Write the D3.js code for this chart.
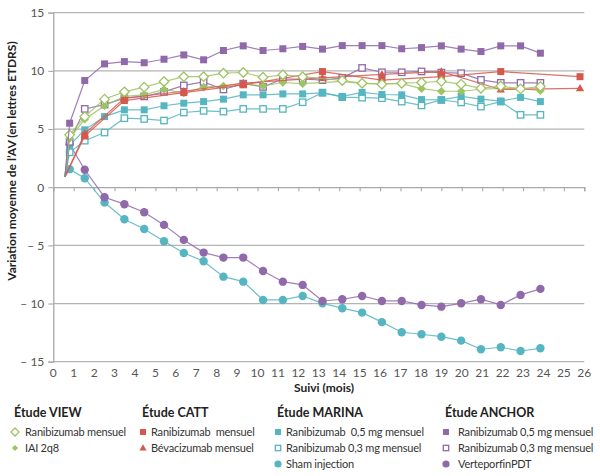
<!DOCTYPE html>
<html><head><meta charset="utf-8">
<script src="https://cdn.jsdelivr.net/npm/d3@7"></script>
<style>body{margin:0;background:#fff} text{font-family:Lato,sans-serif}</style>
</head><body><svg id="c" width="600" height="476"></svg>
<script>
// ---- data ----
const xVisits = [0.57, 0.8, 1.54, 2.51, 3.48, 4.45, 5.42, 6.39, 7.36, 8.33, 9.30, 10.27, 11.24, 12.21, 13.18, 14.15, 15.12, 16.09, 17.06, 18.03, 19.0, 19.97, 20.94, 21.91, 22.88, 23.85];
const anchor05 = [0.9, 5.5, 9.17, 10.6, 10.8, 10.7, 11.0, 11.37, 10.95, 11.75, 12.15, 11.75, 11.9, 12.1, 11.87, 12.17, 12.17, 12.17, 11.9, 12.0, 12.15, 11.87, 11.66, 12.15, 12.15, 11.52];
const anchor03 = [0.9, 3.9, 6.73, 7.1, 7.65, 7.8, 8.2, 8.75, 9.05, 8.4, 8.9, 8.62, 9.3, 9.3, 9.2, 9.4, 10.25, 9.88, 9.88, 9.95, 9.85, 9.8, 9.23, 8.97, 8.97, 8.97];
const anchorPDT = [0.9, 3.7, 1.5, -0.86, -1.46, -2.15, -3.24, -4.53, -5.62, -6.05, -6.05, -7.2, -8.12, -8.4, -9.78, -9.63, -9.35, -9.78, -9.78, -10.12, -10.27, -9.98, -9.63, -10.12, -9.26, -8.74];
const marina05 = [0.9, 3.6, 4.93, 6.07, 6.65, 6.65, 7.0, 7.22, 7.36, 7.57, 7.94, 7.94, 8.02, 8.02, 8.1, 7.8, 8.15, 7.97, 7.94, 7.53, 7.5, 7.8, 7.57, 7.4, 7.72, 7.36];
const marina03 = [0.9, 3.0, 4.0, 4.7, 5.93, 5.87, 5.73, 6.42, 6.56, 6.5, 6.73, 6.73, 6.73, 7.3, 8.13, 7.74, 7.7, 7.65, 7.36, 7.03, 7.5, 7.28, 6.93, 7.36, 6.22, 6.22];
const marinaSham = [0.9, 1.55, 0.77, -1.32, -2.75, -3.59, -4.64, -5.65, -6.37, -7.69, -8.12, -9.69, -9.69, -9.35, -9.98, -10.4, -10.78, -11.6, -12.47, -12.64, -12.85, -13.19, -13.93, -13.76, -14.08, -13.85];
const viewRanibizumab = [0.9, 4.5, 6.07, 7.57, 8.2, 8.6, 9.08, 9.5, 9.5, 9.8, 9.86, 9.45, 9.66, 9.5, null, 9.17, 8.94, 8.85, 8.94, 9.0, 9.1, 8.86, 8.5, 8.7, 8.45, 8.65];
const viewIAI = [0.9, 4.2, 5.85, 7.0, 7.8, 7.94, 8.4, 8.1, 8.6, 8.7, 8.9, 8.7, 9.0, 8.9, null, 9.1, 8.9, 8.9, 8.9, 8.47, 8.25, 8.25, 8.42, 8.5, 8.5, 8.3];
const cattMonths = [0.57, 1.54, 3.48, 6.39, 9.30, 13.18, 16.09, 19.0, 21.91, 25.79];
const cattRanibizumab = [0.9, 4.4, 7.45, 8.13, 8.8, 9.94, 9.2, 9.5, 9.94, 9.5];
const cattBevacizumab = [0.9, 4.6, 7.65, 8.25, 8.94, 9.4, 9.7, 9.94, 8.4, 8.5];

const xTicks = d3.range(0, 27);
const yTicks = [15, 10, 5, 0, -5, -10, -15];
const yTickLabels = ["15", "10", "5", "0", "\u2013 5", "\u2013 10", "\u2013 15"];
const xTitle = "Suivi (mois)";
const yTitle = "Variation moyenne de l\u2019AV (en lettres ETDRS)";

const studies = ["\u00C9tude VIEW", "\u00C9tude CATT", "\u00C9tude MARINA", "\u00C9tude ANCHOR"];
const legendLabels = [
  ["Ranibizumab mensuel", "IAI 2q8"],
  ["Ranibizumab  mensuel", "B\u00E9vacizumab mensuel"],
  ["Ranibizumab  0,5 mg mensuel", "Ranibizumab 0,3 mg mensuel", "Sham injection"],
  ["Ranibizumab 0,5 mg mensuel", "Ranibizumab 0,3 mg mensuel", "VerteporfinPDT"]
];

// ---- styles ----
const PURPLE = "#8f69aa", TEAL = "#55b5c0", GREEN = "#9dc463", RED = "#d6584c";

const series = [
  {x: xVisits, v: marinaSham, c: TEAL, shape: "circle", hollow: false},
  {x: xVisits, v: anchorPDT, c: PURPLE, shape: "circle", hollow: false},
  {x: xVisits, v: marina03, c: TEAL, shape: "square", hollow: true},
  {x: xVisits, v: marina05, c: TEAL, shape: "square", hollow: false},
  {x: xVisits, v: anchor03, c: PURPLE, shape: "square", hollow: true},
  {x: xVisits, v: viewIAI, c: GREEN, shape: "diamond", hollow: false},
  {x: cattMonths, v: cattBevacizumab, c: RED, shape: "triangle", hollow: false},
  {x: cattMonths, v: cattRanibizumab, c: RED, shape: "square", hollow: false},
  {x: xVisits, v: viewRanibizumab, c: GREEN, shape: "diamond", hollow: true},
  {x: xVisits, v: anchor05, c: PURPLE, shape: "square", hollow: false}
];

const svg = d3.select("#c");
const x = d3.scaleLinear().domain([0, 26]).range([53.3, 584.3]);
const y = d3.scaleLinear().domain([-15, 15]).range([361.7, 12.7]);

// grid lines
svg.append("g").selectAll("line").data(yTicks.filter(d => d !== 0)).join("line")
  .attr("x1", x(0)).attr("x2", x(26)).attr("y1", d => y(d)).attr("y2", d => y(d))
  .attr("stroke", "#b4b4b4").attr("stroke-width", 1.3);

// y axis
const yAxis = d3.axisLeft(y).tickValues(yTicks).tickSize(5).tickPadding(4)
  .tickFormat((d, i) => yTickLabels[i]);
const gy = svg.append("g").attr("transform", `translate(${x(0)},0)`).call(yAxis);
gy.select(".domain").attr("stroke", "#a8a8a8").attr("stroke-width", 1.3);
gy.selectAll(".tick line").attr("stroke", "#a8a8a8").attr("stroke-width", 1.1);
gy.selectAll("text").attr("fill", "#555").style("font-size", "12px").style("font-family", "Lato,sans-serif");

// x axis at y = 0
const xAxis = d3.axisBottom(x).tickValues(xTicks).tickSize(4).tickFormat(() => "");
const gx = svg.append("g").attr("transform", `translate(0,${y(0)})`).call(xAxis);
gx.select(".domain").attr("stroke", "#a8a8a8").attr("stroke-width", 1.3);
gx.selectAll(".tick line").attr("stroke", "#a8a8a8").attr("stroke-width", 1.1);

// x tick labels at bottom
svg.append("g").selectAll("text").data(xTicks).join("text")
  .attr("x", d => x(d)).attr("y", y(-15) + 15).attr("text-anchor", "middle")
  .attr("fill", "#555").style("font-size", "12px").text(d => d);

// titles
svg.append("text").attr("x", 324).attr("y", 392).attr("text-anchor", "middle")
  .style("font-size", "12px").style("font-weight", "bold").attr("fill", "#222").text(xTitle);
svg.append("text").attr("transform", "translate(16,161) rotate(-90)").attr("text-anchor", "middle")
  .style("font-size", "12px").style("font-weight", "bold").attr("fill", "#222").text(yTitle);

// markers
function marker(g, shape, cx, cy, color, hollow, s) {
  let el;
  if (shape === "circle") {
    el = g.append("circle").attr("cx", cx).attr("cy", cy).attr("r", s * 0.6);
  } else if (shape === "square") {
    const h = hollow ? s * 0.5 - 0.3 : s * 0.5;
    el = g.append("rect").attr("x", cx - h).attr("y", cy - h).attr("width", 2 * h).attr("height", 2 * h);
  } else if (shape === "diamond") {
    const h = hollow ? s * 0.68 : s * 0.62;
    el = g.append("path").attr("d", `M${cx},${cy - h}L${cx + h},${cy}L${cx},${cy + h}L${cx - h},${cy}Z`);
  } else {
    const h = s * 0.62;
    el = g.append("path").attr("d", `M${cx},${cy - h}L${cx + h * 0.95},${cy + h * 0.7}L${cx - h * 0.95},${cy + h * 0.7}Z`);
  }
  if (hollow) el.attr("fill", "#fff").attr("stroke", color).attr("stroke-width", 1.3);
  else el.attr("fill", color);
  return el;
}

const line = d3.line().x(d => x(d[0])).y(d => y(d[1]));
series.forEach(s => {
  const pts = s.x.map((xx, i) => [xx, s.v[i]]).filter(p => p[1] !== null);
  const g = svg.append("g");
  g.append("path").attr("d", line(pts)).attr("fill", "none")
    .attr("stroke", s.c).attr("stroke-width", 1.2).attr("stroke-opacity", 0.85);
  pts.slice(1).forEach(p => marker(g, s.shape, x(p[0]), y(p[1]), s.c, s.hollow, 7));
});

// legend
const colX = [14, 142, 277, 445];
const legendStyle = [
  [[GREEN, "diamond", true], [GREEN, "diamond", false]],
  [[RED, "square", false], [RED, "triangle", false]],
  [[TEAL, "square", false], [TEAL, "square", true], [TEAL, "circle", false]],
  [[PURPLE, "square", false], [PURPLE, "square", true], [PURPLE, "circle", false]]
];
const lg = svg.append("g");
studies.forEach((t, i) => {
  lg.append("text").attr("x", colX[i]).attr("y", 417).style("font-size", "12.5px")
    .style("font-weight", "bold").attr("fill", "#222").text(t);
  legendLabels[i].forEach((lab, j) => {
    const cy = 432 + j * 16;
    const st = legendStyle[i][j];
    marker(lg, st[1], colX[i] + 1, cy, st[0], st[2], st[1] === "diamond" && !st[2] ? 5 : 6);
    lg.append("text").attr("x", colX[i] + (i === 0 ? 11 : i === 3 ? 13 : 9)).attr("y", cy + 4)
      .style("font-size", "11px").style("letter-spacing", "-0.2px").style("white-space", "pre")
      .attr("fill", "#333").text(lab);
  });
});
</script></body></html>
